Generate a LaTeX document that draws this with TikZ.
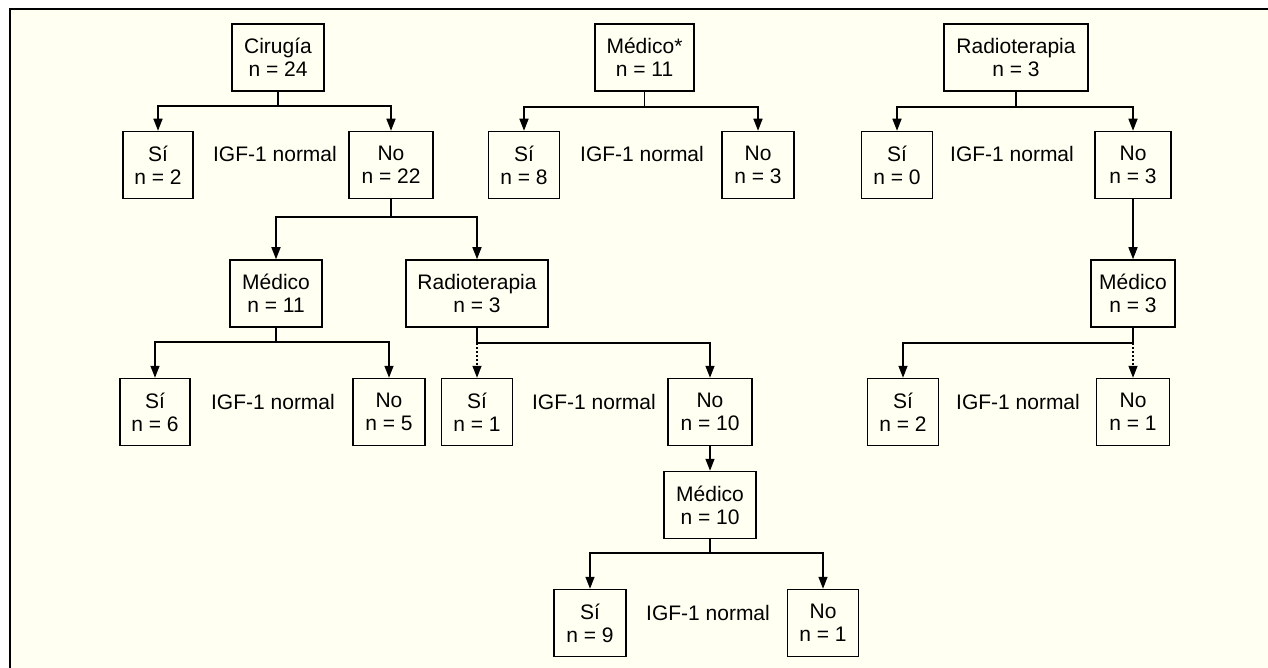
\documentclass[tikz,border=0pt]{standalone}
\usepackage{fontspec}
\setmainfont{Liberation Sans}
\usetikzlibrary{arrows.meta}
\definecolor{cream}{RGB}{255,255,242}
\tikzset{
  box/.style={draw, line width=1.5pt, fill=cream, align=center, minimum height=67pt,
    inner sep=0pt, font=\fontsize{21}{23}\selectfont},
  lbl/.style={anchor=base, inner sep=0pt, font=\fontsize{21}{23}\selectfont},
  conn/.style={line width=1.5pt},
  arr/.style={conn, -{Triangle[length=12pt,width=9pt]}},
  dotarr/.style={arr, dash pattern=on 2pt off 2pt}
}
\begin{document}
\begin{tikzpicture}[x=1pt,y=-1pt]
\useasboundingbox (0,0) rectangle (1268,668);
\fill[white] (0,0) rectangle (1268,668);
\fill[cream] (10,9) rectangle (1268,668);
\draw[line width=1.5pt] (10,668) -- (10,9) -- (1268,9);

% left tree
\node[box, minimum width=92pt] (cir) at (278,57.5) {Cirugía\\n = 24};
\node[box, minimum width=70pt] (si1) at (158,165) {Sí\\n = 2};
\node[box, minimum width=84pt] (no1) at (391,165) {No\\n = 22};
\node[lbl] (l1) at (275,162) {IGF-1 normal};
\node[box, minimum width=92pt] (med1) at (276,293.5) {Médico\\n = 11};
\node[box, minimum width=142pt] (rad1) at (477,293.5) {Radioterapia\\n = 3};
\node[box, minimum width=70pt] (si2) at (155,412) {Sí\\n = 6};
\node[box, minimum width=72pt] (no2) at (389,412) {No\\n = 5};
\node[lbl] (l2) at (273,409) {IGF-1 normal};
\node[box, minimum width=71pt] (si3) at (477,412) {Sí\\n = 1};
\node[box, minimum width=84pt] (no3) at (710,412) {No\\n = 10};
\node[lbl] (l3) at (594,409) {IGF-1 normal};
\node[box, minimum width=92pt] (med3) at (710,505) {Médico\\n = 10};
\node[box, minimum width=72pt] (si4) at (590,623) {Sí\\n = 9};
\node[box, minimum width=71pt] (no4) at (823,623) {No\\n = 1};
\node[lbl] (l4) at (708,620) {IGF-1 normal};

% middle tree
\node[box, minimum width=99pt] (medA) at (644.5,57.5) {Médico*\\n = 11};
\node[box, minimum width=71pt] (si5) at (524,165) {Sí\\n = 8};
\node[box, minimum width=72pt] (no5) at (758,165) {No\\n = 3};
\node[lbl] (l5) at (642,162) {IGF-1 normal};

% right tree
\node[box, minimum width=144pt] (radA) at (1016,57.5) {Radioterapia\\n = 3};
\node[box, minimum width=71pt] (si6) at (897,165) {Sí\\n = 0};
\node[box, minimum width=76pt] (no6) at (1133,165) {No\\n = 3};
\node[lbl] (l6) at (1012,162) {IGF-1 normal};
\node[box, minimum width=84pt] (med6) at (1133,293.5) {Médico\\n = 3};
\node[box, minimum width=71pt] (si7) at (903,412) {Sí\\n = 2};
\node[box, minimum width=73pt] (no7) at (1133,412) {No\\n = 1};
\node[lbl] (l7) at (1018,409) {IGF-1 normal};

% branch points
\coordinate (b1) at (278,106);
\coordinate (b2) at (391,217);
\coordinate (b3) at (276,342);
\coordinate (b4) at (477,343);
\coordinate (b5) at (710,553);
\coordinate (b6) at (644.5,107);
\coordinate (b7) at (1016,107);
\coordinate (b8) at (1133,343);

% connectors
\draw[conn] (cir) -- (b1);
\draw[arr] (b1) -| (si1);
\draw[arr] (b1) -| (no1);
\draw[conn] (no1) -- (b2);
\draw[arr] (b2) -| (med1);
\draw[arr] (b2) -| (rad1);
\draw[conn] (med1) -- (b3);
\draw[arr] (b3) -| (si2);
\draw[arr] (b3) -| (no2);
\draw[conn] (rad1) -- (b4);
\draw[dotarr] (b4) -- (si3);
\draw[arr] (b4) -| (no3);
\draw[arr] (no3) -- (med3);
\draw[conn] (med3) -- (b5);
\draw[arr] (b5) -| (si4);
\draw[arr] (b5) -| (no4);

\draw[conn] (medA) -- (b6);
\draw[arr] (b6) -| (si5);
\draw[arr] (b6) -| (no5);

\draw[conn] (radA) -- (b7);
\draw[arr] (b7) -| (si6);
\draw[arr] (b7) -| (no6);
\draw[arr] (no6) -- (med6);
\draw[conn] (med6) -- (b8);
\draw[arr] (b8) -| (si7);
\draw[dotarr] (b8) -- (no7);
\end{tikzpicture}
\end{document}
